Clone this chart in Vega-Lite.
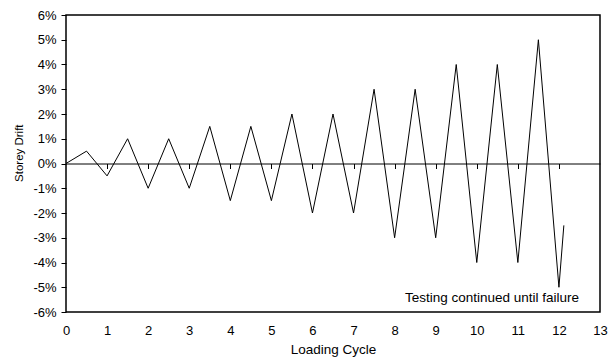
{
  "$schema": "https://vega.github.io/schema/vega-lite/v6.json",
  "width": 534,
  "height": 297,
  "autosize": {"type": "none"},
  "padding": {"left": 66, "top": 15, "right": 8, "bottom": 50},
  "background": "white",
  "config": {
    "font": "Liberation Sans",
    "view": {"stroke": "black", "strokeWidth": 1.5},
    "axis": {"grid": false, "labelFont": "Liberation Sans", "titleFont": "Liberation Sans", "labelFontSize": 13, "titleFontSize": 13.5, "titleFontWeight": "normal", "labelColor": "black", "titleColor": "black", "domainColor": "black", "tickColor": "black", "labelOverlap": false}
  },
  "datasets": {
    "drift": [
      {"cycle": 0, "drift": 0},
      {"cycle": 0.5, "drift": 0.5},
      {"cycle": 1, "drift": -0.5},
      {"cycle": 1.5, "drift": 1},
      {"cycle": 2, "drift": -1},
      {"cycle": 2.5, "drift": 1},
      {"cycle": 3, "drift": -1},
      {"cycle": 3.5, "drift": 1.5},
      {"cycle": 4, "drift": -1.5},
      {"cycle": 4.5, "drift": 1.5},
      {"cycle": 5, "drift": -1.5},
      {"cycle": 5.5, "drift": 2},
      {"cycle": 6, "drift": -2},
      {"cycle": 6.5, "drift": 2},
      {"cycle": 7, "drift": -2},
      {"cycle": 7.5, "drift": 3},
      {"cycle": 8, "drift": -3},
      {"cycle": 8.5, "drift": 3},
      {"cycle": 9, "drift": -3},
      {"cycle": 9.5, "drift": 4},
      {"cycle": 10, "drift": -4},
      {"cycle": 10.5, "drift": 4},
      {"cycle": 11, "drift": -4},
      {"cycle": 11.5, "drift": 5},
      {"cycle": 12, "drift": -5},
      {"cycle": 12.12, "drift": -2.5}
    ],
    "note": [
      {"cycle": 10.37, "drift": -5.42, "label": "Testing continued until failure"}
    ]
  },
  "resolve": {"axis": {"x": "independent", "y": "independent"}},
  "layer": [
    {
      "data": {"name": "drift"},
      "mark": {"type": "line", "color": "black", "strokeWidth": 1},
      "encoding": {
        "x": {"field": "cycle", "type": "quantitative", "scale": {"domain": [0, 13], "nice": false},
          "axis": {"orient": "bottom", "title": "Loading Cycle", "values": [0,1,2,3,4,5,6,7,8,9,10,11,12,13], "domain": false, "ticks": false, "labelPadding": 12, "titlePadding": 5, "labelFlush": false}},
        "y": {"field": "drift", "type": "quantitative", "scale": {"domain": [-6, 6], "nice": false},
          "axis": {"orient": "left", "title": "Storey Drift", "titleFontSize": 11.5, "titleX": -47, "titleY": 137.7, "titleAlign": "center", "titleBaseline": "middle", "titleAngle": -90, "values": [-6,-5,-4,-3,-2,-1,0,1,2,3,4,5,6], "labelExpr": "(datum.value < 0 ? '-' : '') + abs(datum.value) + '%'", "domain": false, "tickSize": 5, "labelPadding": 5}}
      }
    },
    {
      "data": {"name": "drift"},
      "mark": {"type": "line", "opacity": 0},
      "encoding": {
        "x": {"field": "cycle", "type": "quantitative", "scale": {"domain": [0, 13], "nice": false},
          "axis": {"orient": "bottom", "title": null, "labels": false, "domain": true, "domainWidth": 1, "ticks": true, "tickSize": 5, "offset": -148.5, "values": [1,2,3,4,5,6,7,8,9,10,11,12]}},
        "y": {"field": "drift", "type": "quantitative", "axis": null}
      }
    },
    {
      "data": {"name": "note"},
      "mark": {"type": "text", "fontSize": 13.5, "font": "Liberation Sans", "color": "black", "align": "center", "baseline": "middle"},
      "encoding": {
        "x": {"field": "cycle", "type": "quantitative", "axis": null},
        "y": {"field": "drift", "type": "quantitative", "axis": null},
        "text": {"field": "label"}
      }
    }
  ]
}
